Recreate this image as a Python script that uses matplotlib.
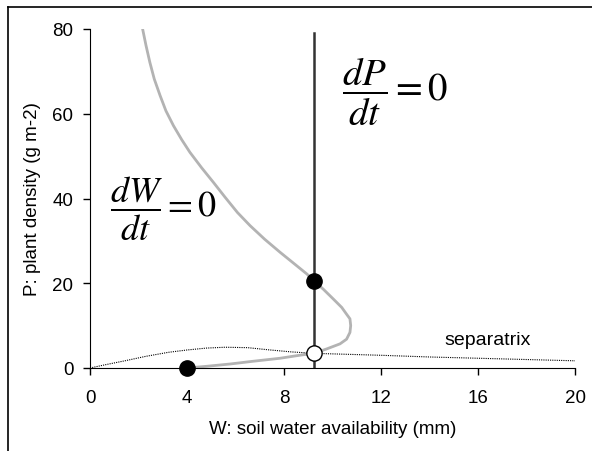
import matplotlib
matplotlib.use("Agg")
import matplotlib.pyplot as plt
from matplotlib.lines import Line2D

plt.rcParams['font.family'] = ['Liberation Sans', 'DejaVu Sans']
plt.rcParams['mathtext.fontset'] = 'stix'

# dW/dt = 0 nullcline (gray curve)
w_null_W = [2.17, 2.31, 2.47, 2.65, 2.89, 3.13, 3.44, 3.78, 4.12, 4.61, 5.09, 5.57, 6.08,
            6.6, 7.2, 7.84, 8.38, 8.94, 9.25, 9.62, 10.03, 10.38, 10.58, 10.72, 10.75,
            10.72, 10.58, 10.31, 9.76, 9.25, 8.52, 7.84, 6.74, 5.77, 4.81, 3.99]
w_null_P = [80.0, 76.1, 72.1, 68.2, 64.3, 60.7, 57.2, 53.9, 50.9, 47.2, 43.8, 40.3, 36.7,
            33.6, 30.4, 27.3, 24.8, 22.2, 20.5, 18.6, 16.3, 14.3, 12.7, 11.6, 10.0,
            8.4, 6.8, 5.7, 4.5, 3.5, 2.9, 2.3, 1.6, 0.94, 0.4, 0.0]

# dP/dt = 0 nullcline (vertical line)
p_null_W = [9.25, 9.25]
p_null_P = [0.0, 79.0]

# separatrix (dotted)
sep_W = [0.0, 0.7, 1.44, 2.3, 3.23, 4.0, 4.8, 5.57, 6.5, 7.35, 8.3, 9.28, 10.5, 12.0, 14.0, 17.0, 20.0]
sep_P = [0.0, 0.85, 1.7, 2.75, 3.7, 4.25, 4.7, 4.9, 4.8, 4.3, 3.8, 3.45, 3.25, 3.0, 2.6, 2.15, 1.7]

# equilibria
stable_W = [4.0, 9.25]
stable_P = [0.0, 20.5]
unstable_W = [9.25]
unstable_P = [3.5]

x_ticks = [0, 4, 8, 12, 16, 20]
y_ticks = [0, 20, 40, 60, 80]

fig = plt.figure(figsize=(5.92, 4.52), dpi=100)
ax = fig.add_axes([90/592, 1 - 369/452, (575-90)/592, (369-30)/452])

ax.plot(w_null_W, w_null_P, color='#b3b3b3', lw=2.0, solid_joinstyle='round', zorder=2)
ax.plot(p_null_W, p_null_P, color='#333333', lw=1.8, zorder=3)
ax.plot(sep_W, sep_P, color='black', lw=0.8, ls=(0, (1, 1)), zorder=2)
ax.plot(stable_W, stable_P, 'o', color='black', ms=11, zorder=5, clip_on=False)
ax.plot(unstable_W, unstable_P, 'o', mfc='white', mec='black', mew=1.0, ms=11, zorder=5)

ax.set_xlim(0, 20)
ax.set_ylim(0, 80)
ax.set_xticks(x_ticks)
ax.set_yticks(y_ticks)
ax.tick_params(direction='out', length=5, width=1, labelsize=13.5)
ax.tick_params(axis='x', pad=10)
ax.tick_params(axis='y', pad=7)
ax.spines['top'].set_visible(False)
ax.spines['right'].set_visible(False)
ax.set_xlabel('W: soil water availability (mm)', fontsize=13.5, labelpad=10)
ax.set_ylabel('P: plant density (g m-2)', fontsize=13.5, labelpad=8)

ax.text(14.6, 6.8, 'separatrix', fontsize=14, ha='left', va='center')
ax.text(10.4, 65.3, r'$\dfrac{dP}{dt} = 0$', fontsize=28, ha='left', va='center')
ax.text(0.82, 37.9, r'$\dfrac{dW}{dt} = 0$', fontsize=26, ha='left', va='center')

# figure frame (top and left edges visible)
fig.add_artist(Line2D([7.5/592, 7.5/592], [0, 1 - 8/452], transform=fig.transFigure, color='black', lw=1.2))
fig.add_artist(Line2D([7.5/592, 1], [1 - 8/452, 1 - 8/452], transform=fig.transFigure, color='black', lw=1.2))

fig.savefig('out.png', dpi=100)
